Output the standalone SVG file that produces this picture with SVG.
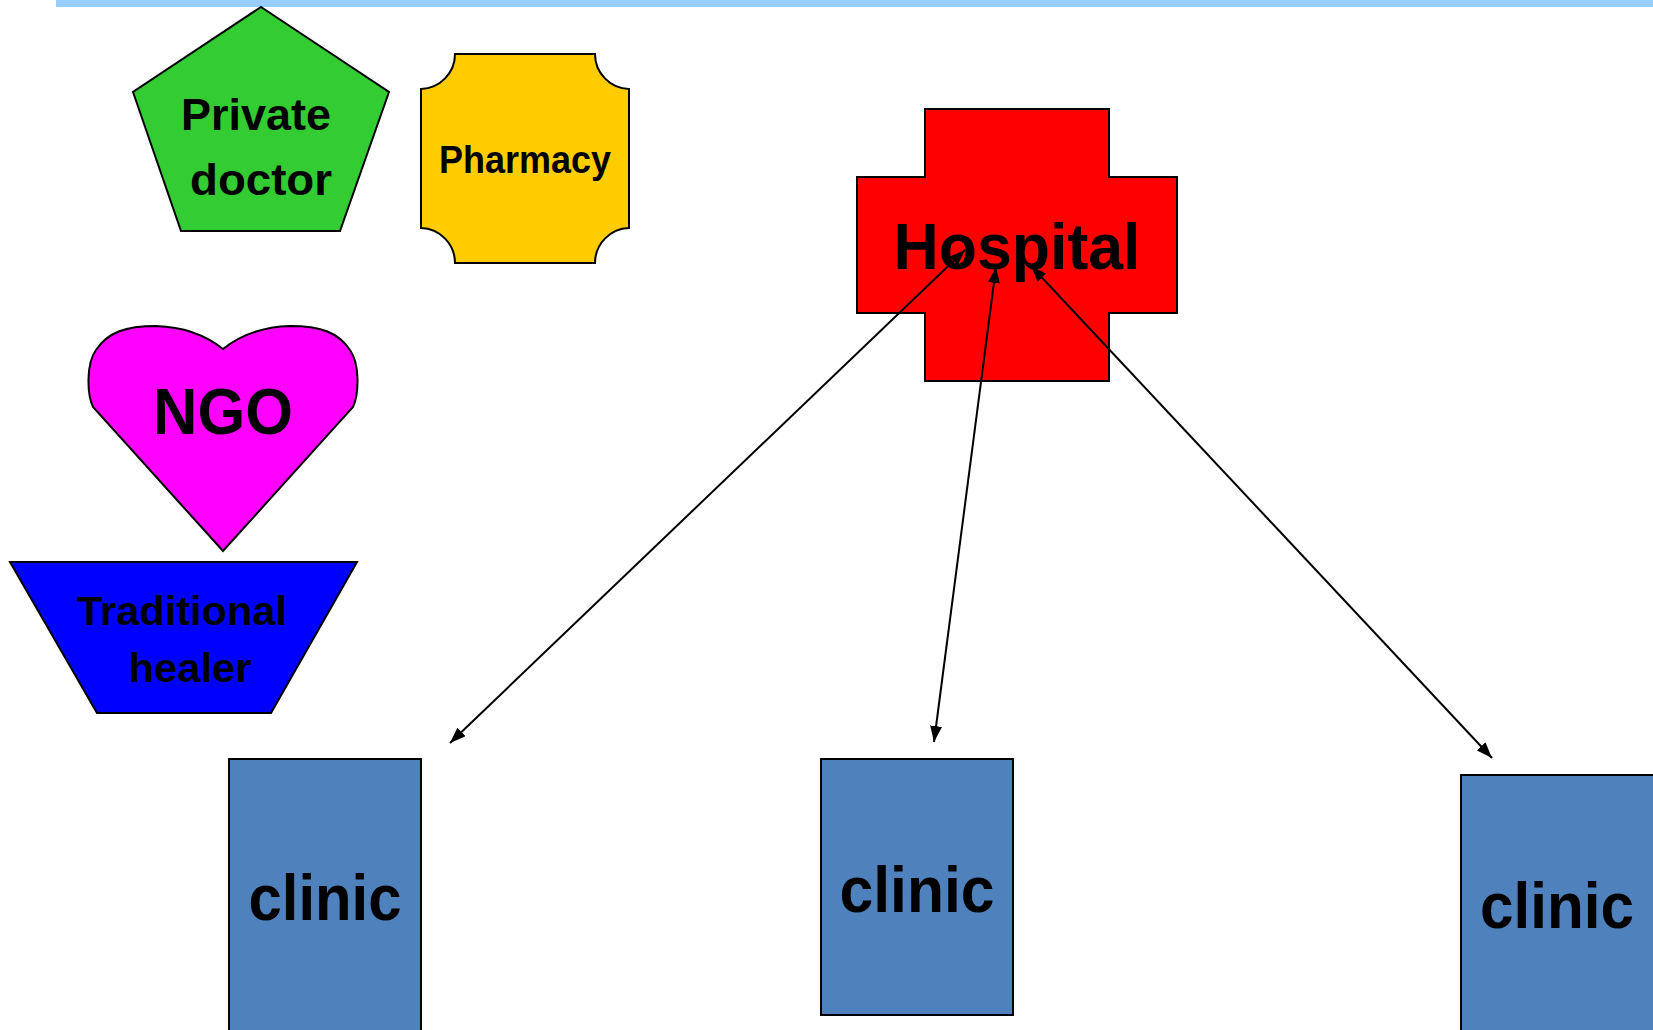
<svg xmlns="http://www.w3.org/2000/svg" width="1653" height="1030" viewBox="0 0 1653 1030">
<style>
.shape{stroke:#000;stroke-width:2}
.lbl{font-family:"Liberation Sans",Arial,sans-serif;font-weight:bold;fill:#000}
.conn{stroke:#000;stroke-width:2;fill:none}
</style>
<defs>
<marker id="ah" viewBox="0 0 16 12" refX="16" refY="6" markerWidth="16" markerHeight="12" markerUnits="userSpaceOnUse" orient="auto-start-reverse">
<path d="M0,0 L16,6 L0,12 z" fill="#000"/>
</marker>
</defs>
<rect x="56" y="0" width="1597" height="7" fill="#99CCFF"/>
<g id="private-doctor">
<polygon class="shape" points="261,7 389,92 340,231 181,231 133,92" fill="#33CC33"/>
<text class="lbl" x="256" y="130" font-size="45" text-anchor="middle" textLength="150" lengthAdjust="spacingAndGlyphs">Private</text>
<text class="lbl" x="261" y="195" font-size="45" text-anchor="middle" textLength="142" lengthAdjust="spacingAndGlyphs">doctor</text>
</g>
<g id="pharmacy">
<path class="shape" fill="#FFCC00" d="M455,54 L595,54 A35,35 0 0 0 629,89 L629,228 A35,35 0 0 0 595,263 L455,263 A35,35 0 0 0 421,228 L421,89 A35,35 0 0 0 455,54 Z"/>
<text class="lbl" x="525" y="173" font-size="38" text-anchor="middle" textLength="172" lengthAdjust="spacingAndGlyphs">Pharmacy</text>
</g>
<g id="ngo">
<path class="shape" fill="#FF00FF" d="M223,349 C238,337 258,327 290,326 C320,326 338,332 350,350 C360,364 359,394 353,407 L223,551 L93,407 C87,394 86,364 96,350 C108,332 126,326 156,326 C188,327 208,337 223,349 Z"/>
<text class="lbl" x="223" y="434" font-size="65" text-anchor="middle" textLength="140" lengthAdjust="spacingAndGlyphs">NGO</text>
</g>
<g id="traditional-healer">
<polygon class="shape" fill="#0000FF" points="10,562 357,562 271,713 97,713"/>
<text class="lbl" x="182" y="625" font-size="41" text-anchor="middle" textLength="210" lengthAdjust="spacingAndGlyphs">Traditional</text>
<text class="lbl" x="190" y="682" font-size="41" text-anchor="middle" textLength="123" lengthAdjust="spacingAndGlyphs">healer</text>
</g>
<g id="hospital">
<path class="shape" fill="#FF0000" d="M925,109 L1109,109 L1109,177 L1177,177 L1177,313 L1109,313 L1109,381 L925,381 L925,313 L857,313 L857,177 L925,177 Z"/>
<text class="lbl" x="1017" y="269" font-size="64" text-anchor="middle" textLength="247" lengthAdjust="spacingAndGlyphs">Hospital</text>
</g>
<g id="clinic-1">
<rect class="shape" x="229" y="759" width="192" height="280" fill="#4F81BD"/>
<text class="lbl" x="325" y="920" font-size="65" text-anchor="middle" textLength="153" lengthAdjust="spacingAndGlyphs">clinic</text>
</g>
<g id="clinic-2">
<rect class="shape" x="821" y="759" width="192" height="256" fill="#4F81BD"/>
<text class="lbl" x="917" y="912" font-size="65" text-anchor="middle" textLength="155" lengthAdjust="spacingAndGlyphs">clinic</text>
</g>
<g id="clinic-3">
<rect class="shape" x="1461" y="775" width="200" height="270" fill="#4F81BD"/>
<text class="lbl" x="1557" y="928" font-size="65" text-anchor="middle" textLength="154" lengthAdjust="spacingAndGlyphs">clinic</text>
</g>
<g id="connectors">
<line class="conn" x1="965" y1="250" x2="450" y2="743" marker-start="url(#ah)" marker-end="url(#ah)"/>
<line class="conn" x1="996" y1="267" x2="934" y2="742" marker-start="url(#ah)" marker-end="url(#ah)"/>
<line class="conn" x1="1031" y1="266" x2="1492" y2="758" marker-start="url(#ah)" marker-end="url(#ah)"/>
</g>
</svg>
